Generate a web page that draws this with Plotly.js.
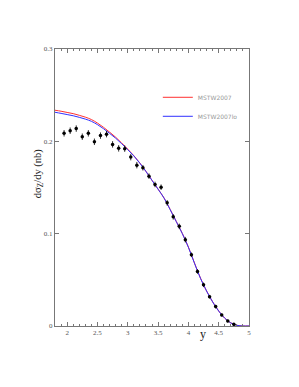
<!DOCTYPE html>
<html>
<head>
<meta charset="utf-8">
<script src="https://cdn.plot.ly/plotly-3.0.1.min.js"></script>
<style>html,body{margin:0;padding:0;background:#fff;}#chart{width:299px;height:387px;}</style>
</head>
<body>
<div id="chart"></div>
<script>
// Data points (rapidity y, dσ/dy in nb)
const dataY = [1.95,2.05,2.15,2.25,2.35,2.45,2.55,2.65,2.75,2.85,2.95,3.05,3.15,3.25,3.35,3.45,3.55,3.65,3.75,3.85,3.95,4.05,4.15,4.25,4.35,4.45,4.55,4.65,4.75];
const dataVal = [0.2087,0.2115,0.2138,0.2050,0.2087,0.1995,0.2062,0.2078,0.1967,0.1924,0.1921,0.1829,0.1742,0.1714,0.1623,0.1533,0.1503,0.1334,0.1182,0.1079,0.0935,0.0772,0.0590,0.0446,0.0318,0.0210,0.0120,0.0054,0.0018];
const dataErr = [0.0035,0.0035,0.0035,0.0035,0.0035,0.0035,0.0035,0.0035,0.0035,0.0035,0.0035,0.0035,0.0035,0.0030,0.0030,0.0030,0.0030,0.0030,0.0030,0.0030,0.0030,0.0025,0.0025,0.0025,0.0020,0.0020,0.0015,0.0015,0.0010];

// Theory curves
const curveY = [1.8,1.9,2.0,2.1,2.2,2.3,2.4,2.5,2.6,2.7,2.8,2.9,3.0,3.1,3.2,3.3,3.4,3.5,3.6,3.7,3.8,3.9,4.0,4.1,4.2,4.3,4.4,4.5,4.6,4.7,4.8,4.9,5.0];
const mstw2007 = [0.2337,0.2326,0.2313,0.2300,0.2282,0.2262,0.2236,0.2198,0.2152,0.2100,0.2045,0.1982,0.1915,0.1845,0.1765,0.1675,0.1578,0.1483,0.1385,0.1262,0.1133,0.1003,0.0855,0.0683,0.0518,0.0380,0.0262,0.0163,0.0085,0.0034,0.0008,0.0000,0.0000];
const mstw2007lo = [0.2315,0.2303,0.2290,0.2277,0.2260,0.2241,0.2217,0.2181,0.2137,0.2087,0.2034,0.1974,0.1910,0.1842,0.1763,0.1674,0.1577,0.1482,0.1384,0.1260,0.1131,0.1001,0.0853,0.0681,0.0516,0.0379,0.0261,0.0162,0.0084,0.0033,0.0007,0.0000,0.0000];

const xTicks = [2,2.5,3,3.5,4,4.5,5];
const xTickText = ['2','2.5','3','3.5','4','4.5','5'];
const yTicks = [0,0.1,0.2,0.3];
const yTickText = ['0','0.1','0.2','0.3'];

const traces = [
  {x: curveY, y: mstw2007, mode: 'lines', name: 'MSTW2007', line: {color: '#ff3030', width: 1, shape: 'spline'}},
  {x: curveY, y: mstw2007lo, mode: 'lines', name: 'MSTW2007lo', line: {color: '#3030ff', width: 1, shape: 'spline'}},
  {x: dataY, y: dataVal, mode: 'markers', name: 'data', showlegend: false,
   marker: {color: '#000', size: 3.5, symbol: 'circle'},
   error_y: {type: 'data', array: dataErr, color: '#000', thickness: 0.8, width: 0}}
];

const axisFont = {family: 'Liberation Serif, serif', size: 7, color: '#555'};
const layout = {
  width: 299, height: 387,
  margin: {l: 55, r: 50, t: 49, b: 61},
  paper_bgcolor: '#fff', plot_bgcolor: '#fff',
  showlegend: true,
  legend: {x: 0.53, y: 0.878, xanchor: 'left', yanchor: 'top', bgcolor: 'rgba(0,0,0,0)',
           font: {family: 'DejaVu Sans, sans-serif', size: 6, color: '#999'}, tracegroupgap: 0, itemwidth: 30},
  xaxis: {range: [1.8, 5], tickvals: xTicks, ticktext: xTickText, ticks: 'inside', ticklen: 4, tickcolor: '#777',
          showline: true, linecolor: '#777', linewidth: 1, mirror: 'ticks', showgrid: false, zeroline: false,
          tickfont: axisFont, minor: {dtick: 0.1, ticks: 'inside', ticklen: 2, tickcolor: '#777', showgrid: false}},
  yaxis: {range: [0, 0.3], tickvals: yTicks, ticktext: yTickText, ticks: 'inside', ticklen: 4, tickcolor: '#777',
          showline: true, linecolor: '#777', linewidth: 1, mirror: 'ticks', showgrid: false, zeroline: false,
          tickfont: axisFont},
  annotations: [
    {text: 'dσ<sub>Z</sub>/dy (nb)', xref: 'paper', yref: 'paper', x: -0.085, y: 0.55, xanchor: 'center', yanchor: 'middle',
     textangle: -90, showarrow: false, font: {family: 'Liberation Serif, serif', size: 10.5, color: '#222'}},
    {text: 'y', xref: 'paper', yref: 'paper', x: 0.763, y: 0.005, xanchor: 'center', yanchor: 'top',
     showarrow: false, font: {family: 'Liberation Serif, serif', size: 12, color: '#222'}}
  ]
};

Plotly.newPlot('chart', traces, layout, {displayModeBar: false, staticPlot: true});
</script>
</body>
</html>
